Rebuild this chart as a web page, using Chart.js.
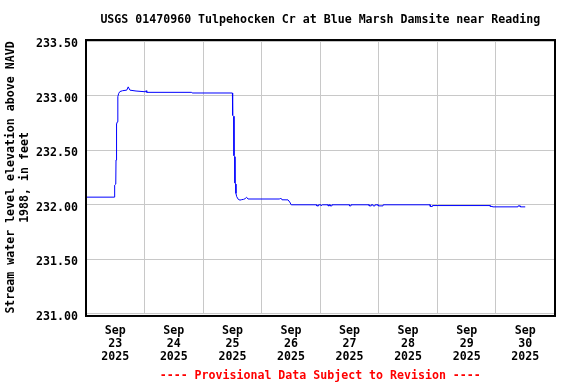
<!DOCTYPE html>
<html>
<head>
<meta charset="utf-8">
<script src="https://cdn.jsdelivr.net/npm/chart.js@4/dist/chart.umd.min.js"></script>
<style>
  html, body { margin: 0; padding: 0; background: #ffffff; }
  canvas { display: block; }
</style>
</head>
<body>
<canvas id="c" width="576" height="384"></canvas>
<script>
// ---- Data (hours since Sep 23 2025 00:00, gage height in feet) ----
const hours = [
  0, 11.6, 11.75, 12.2, 12.3, 12.45, 12.6, 12.85, 13.05, 13.4, 13.9, 15.0, 16.7, 17.3, 18.0, 20.5,
  24.4, 24.6, 24.9, 43.3, 43.5, 60.0, 60.1, 60.55, 60.65, 60.95, 61.05, 61.35, 61.45, 61.75,
  62.4, 63.1, 63.8, 64.6, 65.2, 65.8, 66.4, 79.4, 79.8, 80.3, 82.8, 83.5, 84.1,
  94.5, 94.6, 95.2, 95.3, 96.3, 96.4, 96.7, 96.8, 99.2, 99.3, 99.6, 99.7,
  100.0, 100.1, 100.7, 100.8, 107.9, 108.0, 108.5, 108.6, 116.0, 116.1, 116.8, 116.9,
  117.6, 117.7, 118.4, 118.5, 119.7, 119.8, 121.7, 121.8, 141.0, 141.1, 141.9, 142.0,
  165.6, 165.7, 166.5, 166.6, 177.0, 177.1, 177.9, 178.0, 180.0
];
const levels = [
  232.07, 232.07, 232.18, 232.19, 232.41, 232.42, 232.74, 232.76, 232.99, 233.02, 233.037, 233.045, 233.05, 233.08, 233.05, 233.042,
  233.035, 233.045, 233.03, 233.03, 233.024, 233.024, 232.82, 232.81, 232.45, 232.44, 232.20, 232.19, 232.105, 232.075,
  232.05, 232.043, 232.047, 232.05, 232.056, 232.069, 232.053, 232.053, 232.062, 232.046, 232.045, 232.025, 232.0,
  232.0, 231.99, 231.99, 232.0, 232.0, 231.99, 231.99, 232.0, 232.0, 231.99, 231.99, 232.0,
  232.0, 231.99, 231.99, 232.0, 232.0, 231.99, 231.99, 232.0, 232.0, 231.99, 231.99, 232.0,
  232.0, 231.99, 231.99, 232.0, 232.0, 231.99, 231.99, 232.0, 232.0, 231.985, 231.985, 231.993,
  231.993, 231.985, 231.985, 231.981, 231.981, 231.99, 231.99, 231.981, 231.981
];
const dayLabels = ['23', '24', '25', '26', '27', '28', '29', '30'];
const monthLabel = 'Sep';
const yearLabel = '2025';
const yTicks = [231.0, 231.5, 232.0, 232.5, 233.0, 233.5];
const titleText = 'USGS 01470960 Tulpehocken Cr at Blue Marsh Damsite near Reading';
const yTitle = ['Stream water level elevation above NAVD', '1988, in feet'];
const footerText = '---- Provisional Data Subject to Revision ----';

const FONT = "'DejaVu Sans Mono', 'Liberation Mono', monospace";
const FS = 11.6;
Chart.defaults.font.family = FONT;
Chart.defaults.font.size = FS;
Chart.defaults.font.weight = 'bold';
Chart.defaults.color = '#000000';

const frame = {
  id: 'frame',
  afterDraw(chart) {
    const a = chart.chartArea, ctx = chart.ctx;
    ctx.save();
    ctx.strokeStyle = '#000000';
    ctx.lineWidth = 2;
    ctx.strokeRect(a.left, a.top - 1, a.right + 0.5 - a.left, a.bottom + 2 - (a.top - 1));
    ctx.restore();
  }
};

const points = hours.map((h, i) => ({ x: h, y: levels[i] }));
const HOURS_PER_DAY = 24;

new Chart(document.getElementById('c'), {
  type: 'line',
  data: {
    datasets: [{
      data: points,
      borderColor: '#0000ff',
      borderWidth: 1,
      pointRadius: 0,
      tension: 0,
      fill: false
    }]
  },
  options: {
    responsive: false,
    animation: false,
    devicePixelRatio: 1,
    layout: { padding: { left: 0, right: 21.5, top: 0, bottom: 0 } },
    plugins: {
      legend: { display: false },
      tooltip: { enabled: false },
      title: {
        display: true,
        text: titleText,
        fullSize: false,
        color: '#000000',
        font: { family: FONT, size: FS, weight: 'bold', lineHeight: 1.2 },
        padding: { top: 13, bottom: 14.1 }
      },
      subtitle: {
        display: true,
        position: 'bottom',
        text: footerText,
        fullSize: false,
        color: '#ff0000',
        font: { family: FONT, size: FS, weight: 'bold', lineHeight: 1.2 },
        padding: { top: 7, bottom: 0.6 }
      }
    },
    scales: {
      x: {
        type: 'linear',
        position: 'bottom',
        min: 0,
        max: dayLabels.length * HOURS_PER_DAY,
        afterBuildTicks(s) {
          s.ticks = [];
          for (let i = 0; i <= dayLabels.length; i++) s.ticks.push({ value: i * HOURS_PER_DAY });
        },
        ticks: { display: false },
        grid: { color: '#c8c8c8', lineWidth: 1, drawTicks: false },
        border: { display: false },
        afterFit(s) { s.height = 0; }
      },
      xl: {
        type: 'linear',
        position: 'bottom',
        min: 0,
        max: dayLabels.length * HOURS_PER_DAY,
        afterBuildTicks(s) {
          s.ticks = dayLabels.map((d, i) => ({ value: i * HOURS_PER_DAY + HOURS_PER_DAY / 2 }));
        },
        ticks: {
          autoSkip: false,
          maxRotation: 0,
          minRotation: 0,
          padding: 10.5,
          color: '#000000',
          font: { family: FONT, size: FS, weight: 'bold', lineHeight: 1.12 },
          callback: (v, i) => [monthLabel, dayLabels[i], yearLabel]
        },
        grid: { display: false, drawTicks: false },
        border: { display: false },
        afterFit(s) { s.height = 48.5; }
      },
      y: {
        type: 'linear',
        position: 'left',
        min: yTicks[0],
        max: yTicks[yTicks.length - 1],
        afterBuildTicks(s) { s.ticks = yTicks.map(v => ({ value: v })); },
        ticks: {
          padding: 8,
          labelOffset: 3,
          color: '#000000',
          font: { family: FONT, size: FS, weight: 'bold' },
          callback: v => Number(v).toFixed(2)
        },
        grid: { color: '#c8c8c8', lineWidth: 1, drawTicks: false },
        border: { display: false },
        title: {
          display: true,
          text: yTitle,
          color: '#000000',
          font: { family: FONT, size: FS, weight: 'bold', lineHeight: 1.25 },
          padding: { top: 3.5, bottom: 0 }
        },
        afterFit(s) { s.width = 86; }
      }
    }
  },
  plugins: [frame]
});
</script>
</body>
</html>
